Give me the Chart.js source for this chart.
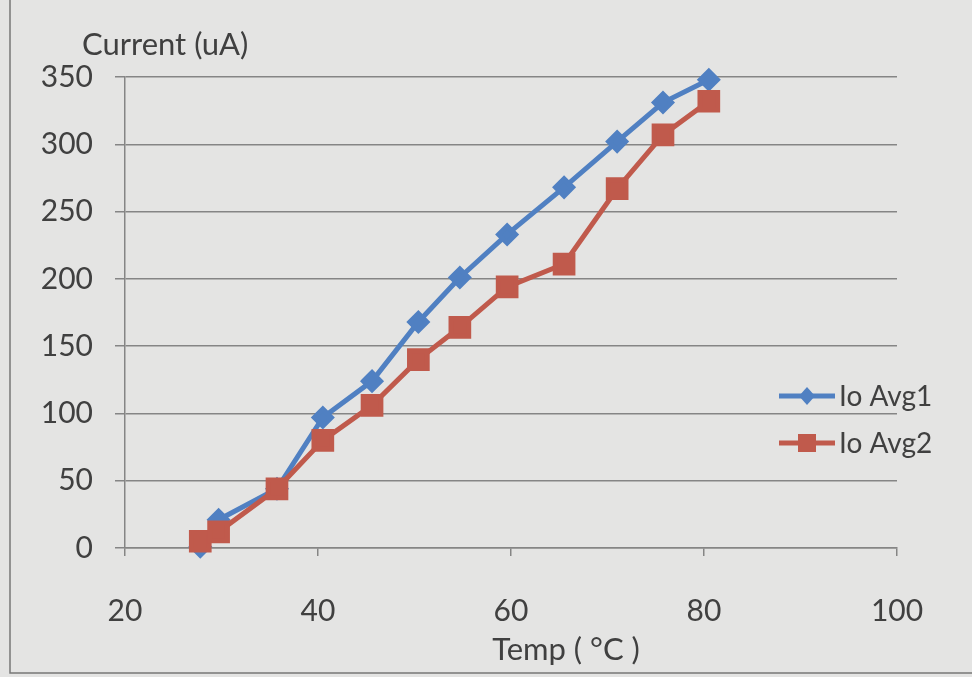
<!DOCTYPE html>
<html><head><meta charset="utf-8">
<script src="https://cdn.jsdelivr.net/npm/chart.js@4/dist/chart.umd.min.js"></script>
<style>html,body{margin:0;padding:0;background:#e4e4e3}canvas{display:block}</style>
</head><body>
<canvas id="c" width="972" height="677"></canvas>
<script>
const temps = [27.8, 29.7, 35.75, 40.5, 45.6, 50.4, 54.7, 59.6, 65.5, 71, 75.75, 80.5];
const avg1 = [1, 21, 44, 97, 124, 168, 201, 233, 268, 302, 331, 348];
const avg2 = [5, 12, 44, 80, 106, 140, 164, 194, 211, 267, 307, 332];
const seriesNames = ['Io Avg1', 'Io Avg2'];
const xTitle = 'Temp ( \u00B0C )';
const yTitle = 'Current (uA)';
const xTicks = [20, 40, 60, 80, 100];
const yTicks = [0, 50, 100, 150, 200, 250, 300, 350];

const BLUE = '#5080c2', RED = '#c05a4c', TXT = '#404040', GRID = '#858585';
const FONT = 'Lato, "Open Sans", sans-serif';

const overlay = {
  id: 'overlay',
  afterDraw(chart) {
    const ctx = chart.ctx;
    ctx.save();
    ctx.strokeStyle = '#777'; ctx.lineWidth = 1.5;
    ctx.beginPath(); ctx.moveTo(10, 0); ctx.lineTo(10, 673); ctx.lineTo(972, 673); ctx.stroke();
    ctx.fillStyle = TXT; ctx.textBaseline = 'middle';
    ctx.font = '31px ' + FONT;
    ctx.textAlign = 'left';
    ctx.fillText(yTitle, 82, 45);
    ctx.textAlign = 'center';
    ctx.fillText(xTitle, 566, 650);
    const items = [
      {name: seriesNames[0], color: BLUE, style: 'diamond', y: 396},
      {name: seriesNames[1], color: RED, style: 'square', y: 443}
    ];
    items.forEach(it => {
      ctx.strokeStyle = it.color; ctx.lineWidth = 5;
      ctx.beginPath(); ctx.moveTo(779, it.y); ctx.lineTo(835, it.y); ctx.stroke();
      ctx.fillStyle = it.color;
      const cx = 807;
      ctx.beginPath();
      if (it.style === 'diamond') {
        ctx.moveTo(cx, it.y - 9); ctx.lineTo(cx + 8, it.y); ctx.lineTo(cx, it.y + 9); ctx.lineTo(cx - 8, it.y); ctx.closePath();
      } else {
        ctx.rect(cx - 9, it.y - 9, 18, 18);
      }
      ctx.fill();
      ctx.fillStyle = TXT; ctx.textAlign = 'left'; ctx.font = '28px ' + FONT;
      ctx.fillText(it.name, 839, it.y + 1);
    });
    ctx.restore();
  }
};

new Chart(document.getElementById('c'), {
  type: 'scatter',
  data: {
    datasets: [
      {label: seriesNames[0], data: temps.map((t, i) => ({x: t, y: avg1[i]})), showLine: true,
       borderColor: BLUE, backgroundColor: BLUE, borderWidth: 5, pointStyle: 'rectRot', pointRadius: 8.5,
       pointHoverRadius: 8.5, clip: false, order: 1},
      {label: seriesNames[1], data: temps.map((t, i) => ({x: t, y: avg2[i]})), showLine: true,
       borderColor: RED, backgroundColor: RED, borderWidth: 5, pointStyle: 'rect', pointRadius: 12.5,
       pointHoverRadius: 12.5, clip: false, order: 0}
    ]
  },
  options: {
    responsive: false, animation: false, devicePixelRatio: 1,
    layout: {padding: {top: 77, right: 75, left: 0, bottom: 0}},
    plugins: {legend: {display: false}, tooltip: {enabled: false}},
    scales: {
      x: {
        type: 'linear', min: 20, max: 100,
        afterBuildTicks: s => { s.ticks = xTicks.map(v => ({value: v})); },
        afterFit: s => { s.height = 129; },
        ticks: {font: {family: FONT, size: 30}, color: TXT, padding: 37},
        grid: {drawOnChartArea: false, drawTicks: true, tickLength: 8, color: GRID, lineWidth: 1.5},
        border: {color: GRID, width: 1.5}
      },
      y: {
        min: 0, max: 350,
        afterBuildTicks: s => { s.ticks = yTicks.map(v => ({value: v})); },
        afterFit: s => { s.width = 125; },
        ticks: {font: {family: FONT, size: 30}, color: TXT, padding: 22},
        grid: {color: GRID, lineWidth: 1.5, tickLength: 10},
        border: {color: GRID, width: 1.5}
      }
    }
  },
  plugins: [overlay]
});
</script>
</body></html>
